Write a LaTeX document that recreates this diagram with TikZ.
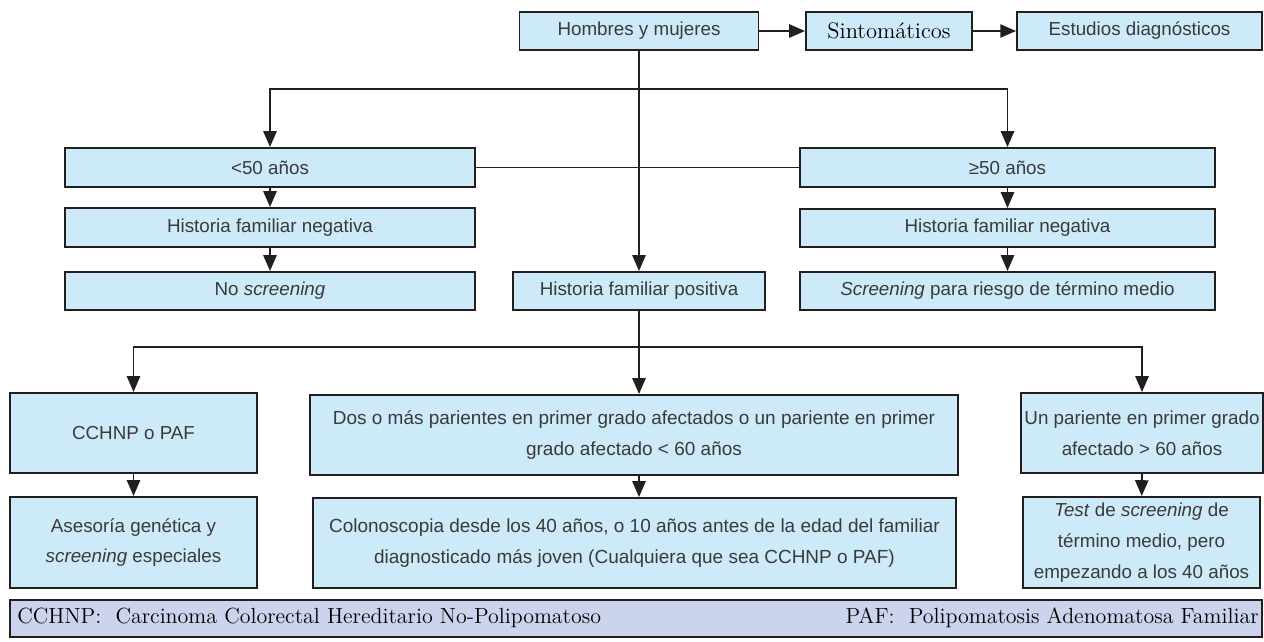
\documentclass[tikz,border=0pt]{standalone}
\usepackage{fontspec}
\newfontfamily\cajasans{Liberation Sans}
\usetikzlibrary{arrows.meta}
\definecolor{celeste}{HTML}{CDEAF9}
\definecolor{lavanda}{HTML}{CBD4EC}
\definecolor{borde}{HTML}{231F20}
\definecolor{letra}{HTML}{3A3A3A}
\begin{document}
\begin{tikzpicture}[x=0.02cm,y=-0.02cm,
	caja/.style={draw=borde,line width=1.1pt,fill=celeste,inner sep=0pt,align=center,text=letra,
		font=\cajasans\fontsize{10.7}{17.5}\selectfont},
	ancha/.style={font=\cajasans\fontsize{10.8}{17.5}\selectfont},
	serif/.style={font=\rmfamily\fontsize{12.5}{14}\selectfont,text=black},
	linea/.style={draw=borde,line width=1.1pt},
	flecha/.style={linea,-{Triangle[length=9pt,width=7.5pt]}}]
	\useasboundingbox (0,0) rectangle (1264,642);
	% fila de arriba
	\node [caja,minimum width=4.78cm,minimum height=0.76cm] (hombres) at (639,31) {Hombres y mujeres};
	\node [caja,serif,font=\rmfamily\fontsize{12.8}{14}\selectfont,minimum width=3.32cm,minimum height=0.76cm] (sintom) at (889,31) {Sintomáticos};
	\node [caja,minimum width=4.9cm,minimum height=0.76cm] (estudios) at (1139.5,31) {Estudios diagnósticos};
	\draw [flecha] (hombres) -- (sintom);
	\draw [flecha] (sintom) -- (estudios);
	% edades
	\node [caja,minimum width=8.2cm,minimum height=0.78cm] (menor) at (270,167.5) {<50 años};
	\node [caja,minimum width=8.2cm,minimum height=0.78cm] (negIzq) at (270,227.5) {Historia familiar negativa};
	\node [caja,minimum width=8.2cm,minimum height=0.76cm] (noScr) at (270,291) {No \textit{screening}};
	\node [caja,minimum width=8.3cm,minimum height=0.78cm] (mayor) at (1007.5,167.5) {≥50 años};
	\node [caja,minimum width=8.3cm,minimum height=0.76cm] (negDer) at (1007.5,228) {Historia familiar negativa};
	\node [caja,minimum width=8.3cm,minimum height=0.76cm] (scrMedio) at (1007.5,291) {\textit{Screening} para riesgo de término medio};
	\node [caja,minimum width=5.04cm,minimum height=0.76cm] (positiva) at (639,291) {Historia familiar positiva};
	\coordinate (arriba) at (639,89);
	\draw [linea] (hombres.south) -- (arriba);
	\draw [flecha] (arriba) -| (menor.north);
	\draw [flecha] (arriba) -| (mayor.north);
	\draw [flecha] (arriba) -- (positiva.north);
	\draw [linea,line width=0.6pt] (menor) -- (mayor);
	\draw [flecha] (menor) -- (negIzq);
	\draw [flecha] (negIzq) -- (noScr);
	\draw [flecha] (mayor) -- (negDer);
	\draw [flecha] (negDer) -- (scrMedio);
	% historia positiva
	\node [caja,minimum width=4.94cm,minimum height=1.6cm] (cchnp) at (133.5,433) {CCHNP o PAF};
	\node [caja,minimum width=4.94cm,minimum height=1.82cm] (asesoria) at (133.5,542.5) {Asesoría genética y\\\textit{screening} especiales};
	\node [caja,ancha,minimum width=12.96cm,minimum height=1.6cm] (dosMas) at (634,435) {Dos o más parientes en primer grado afectados o un pariente en primer\\grado afectado < 60 años};
	\node [caja,ancha,minimum width=12.86cm,minimum height=1.8cm] (colono) at (634.5,543) {Colonoscopia desde los 40 años, o 10 años antes de la edad del familiar\\diagnosticado más joven (Cualquiera que sea CCHNP o PAF)};
	\node [caja,minimum width=4.84cm,minimum height=1.6cm] (unPar) at (1142,433) {Un pariente en primer grado\\afectado > 60 años};
	\node [caja,minimum width=4.74cm,minimum height=1.82cm] (testScr) at (1141.5,542.5) {\textit{Test} de \textit{screening} de\\término medio, pero\\empezando a los 40 años};
	\coordinate (abajo) at (639,347);
	\draw [linea] (positiva.south) -- (abajo);
	\draw [flecha] (abajo) -| (cchnp.north);
	\draw [flecha] (abajo) -| (unPar.north);
	\draw [flecha] (abajo) -- (abajo |- dosMas.north);
	\draw [flecha] (cchnp) -- (asesoria);
	\draw [flecha] (dosMas.south -| abajo) -- (colono.north -| abajo);
	\draw [flecha] (unPar) -- (testScr);
	% leyenda
	\node [caja,fill=lavanda,minimum width=25.04cm,minimum height=0.74cm] (leyenda) at (636,618.5) {};
	\node [serif,anchor=west,inner sep=0pt] (leyCchnp) at (17,618) {CCHNP:\ \ Carcinoma Colorectal Hereditario No-Polipomatoso};
	\node [serif,anchor=east,inner sep=0pt] (leyPaf) at (1259,618) {PAF:\ \ Polipomatosis Adenomatosa Familiar};
\end{tikzpicture}
\end{document}
